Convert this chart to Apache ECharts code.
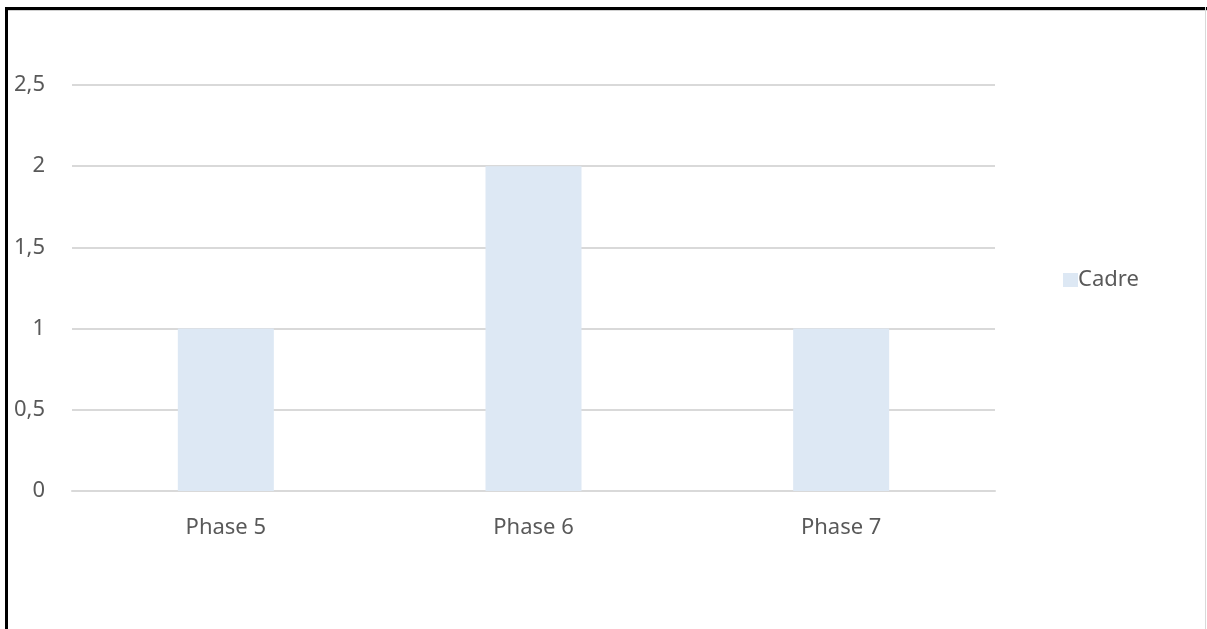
<!DOCTYPE html>
<html>
<head>
<meta charset="utf-8">
<script src="https://cdn.jsdelivr.net/npm/echarts@6/dist/echarts.min.js"></script>
<style>
  html, body { margin: 0; padding: 0; background: #ffffff; }
  #chart { width: 1207px; height: 629px; }
</style>
</head>
<body>
<div id="chart"></div>
<script>
// Categories and values of the bar series
const categories = ['Phase 5', 'Phase 6', 'Phase 7'];
const seriesName = 'Cadre';
const cadreValues = [1, 2, 1];
// Value axis range
const yMin = 0;
const yMax = 2.5;
const yStep = 0.5;

const textColor = '#595959';
const fontFamily = '"Noto Sans", "Open Sans", sans-serif';

const chart = echarts.init(document.getElementById('chart'), null, { renderer: 'canvas' });

chart.setOption({
  backgroundColor: '#ffffff',
  animation: false,
  grid: { left: 72, right: 212, top: 85, bottom: 138, containLabel: false },
  legend: {
    orient: 'vertical',
    left: 1058,
    top: 264,
    itemWidth: 15,
    itemHeight: 14,
    itemGap: 8,
    icon: 'rect',
    textStyle: { color: textColor, fontSize: 22, fontFamily: fontFamily, padding: [0, 0, 0, -5] },
    data: [seriesName]
  },
  xAxis: {
    type: 'category',
    data: categories,
    axisLine: { show: true, lineStyle: { color: '#d9d9d9', width: 2 } },
    axisTick: { show: false },
    axisLabel: { color: textColor, fontSize: 22, fontFamily: fontFamily, margin: 26 }
  },
  yAxis: {
    type: 'value',
    min: yMin,
    max: yMax,
    interval: yStep,
    axisLine: { show: false },
    axisTick: { show: false },
    splitLine: { lineStyle: { color: '#d9d9d9', width: 2 } },
    axisLabel: {
      color: textColor,
      fontSize: 22,
      fontFamily: fontFamily,
      margin: 27,
      formatter: v => String(v).replace('.', ',')
    }
  },
  series: [{
    name: seriesName,
    type: 'bar',
    data: cadreValues,
    barWidth: 96,
    itemStyle: { color: '#dde8f4' }
  }],
  graphic: [
    // frame around the chart
    { type: 'rect', shape: { x: 5, y: 7, width: 1202, height: 3 }, style: { fill: '#000000' }, silent: true },
    { type: 'rect', shape: { x: 5, y: 10, width: 1202, height: 1 }, style: { fill: '#d0d0d0' }, silent: true },
    { type: 'rect', shape: { x: 5, y: 7, width: 3, height: 622 }, style: { fill: '#000000' }, silent: true },
    { type: 'rect', shape: { x: 1205, y: 7, width: 1, height: 622 }, style: { fill: '#d9d9d9' }, silent: true }
  ]
});
</script>
</body>
</html>
